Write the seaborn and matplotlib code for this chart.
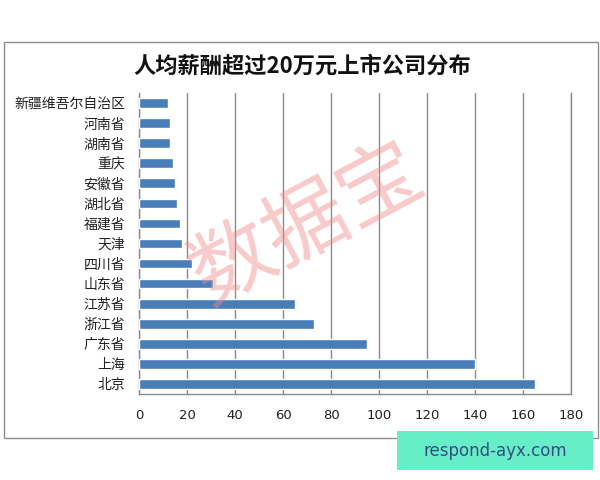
import numpy as np
import pandas as pd
import matplotlib
matplotlib.use("Agg")
import matplotlib.pyplot as plt
import seaborn as sns
from matplotlib.patches import Rectangle
from matplotlib.ticker import FixedLocator

# ----------------------------
# Data
# ----------------------------
regions = ["新疆维吾尔自治区", "河南省", "湖南省", "重庆", "安徽省", "湖北省", "福建省",
           "天津", "四川省", "山东省", "江苏省", "浙江省", "广东省", "上海", "北京"]
counts = [12, 13, 13, 14, 15, 16, 17, 18, 22, 31, 65, 73, 95, 140, 165]
x_ticks = [0, 20, 40, 60, 80, 100, 120, 140, 160, 180]

title = "人均薪酬超过20万元上市公司分布"
watermark = "数据宝"
site = "respond-ayx.com"

df = pd.DataFrame({"region": regions, "count": counts})

sns.set_style("white")
plt.rcParams["font.family"] = ["Noto Sans CJK SC", "DejaVu Sans"]

fig = plt.figure(figsize=(6, 4.8), dpi=100)
ax = fig.add_axes([139 / 600, 86 / 480, 432 / 600, 301 / 480])

sns.barplot(data=df, x="count", y="region", order=regions, orient="h",
            color="#4A7EBB", saturation=1, width=0.48, ax=ax, zorder=3)

# axes / grid in an Excel-like style
ax.set_xlim(0, 180)
ax.set_ylim(len(regions) - 0.5, -0.5)
ax.xaxis.set_major_locator(FixedLocator(x_ticks))
ax.set_xticklabels([str(v) for v in x_ticks], fontsize=9.5, color="#222222",
                   family="DejaVu Sans")
ax.grid(axis="x", color="#8a8a8a", linewidth=1, zorder=0)
ax.set_axisbelow(True)
ax.set_xlabel("")
ax.set_ylabel("")
ax.tick_params(axis="y", labelsize=10, colors="#222222", length=0, pad=10)
ax.yaxis.set_minor_locator(FixedLocator(np.arange(-0.5, len(regions), 1)))
ax.tick_params(axis="y", which="minor", length=5, color="#8a8a8a", width=1)
ax.tick_params(axis="x", length=5, color="#8a8a8a", width=1, pad=6)
ax.spines["top"].set_visible(False)
for side in ["left", "bottom", "right"]:
    ax.spines[side].set_color("#8a8a8a")
    ax.spines[side].set_linewidth(1)

# title
fig.text(302 / 600, 1 - 66 / 480, title, ha="center", va="center",
         fontsize=16, fontweight="bold", color="#111111")

# outer chart frame
fig.patches.append(Rectangle((4 / 600, 1 - 438 / 480), 594 / 600, 396 / 480,
                             transform=fig.transFigure, fill=False,
                             edgecolor="#8c8c8c", linewidth=1))

# watermark
fig.text(308 / 600, 1 - 225 / 480, watermark, ha="center", va="center",
         rotation=28, fontsize=60, color="#f08a8a", alpha=0.45, zorder=10)

# green site badge
fig.patches.append(Rectangle((397 / 600, 1 - 470 / 480), 196 / 600, 39 / 480,
                             transform=fig.transFigure, facecolor="#66EEC8",
                             edgecolor="none", zorder=5))
fig.text(495 / 600, 1 - 451 / 480, site, ha="center", va="center",
         fontsize=12, color="#3b4a86", zorder=6, family="DejaVu Sans")

plt.savefig("out.png", dpi=100)
plt.close()
